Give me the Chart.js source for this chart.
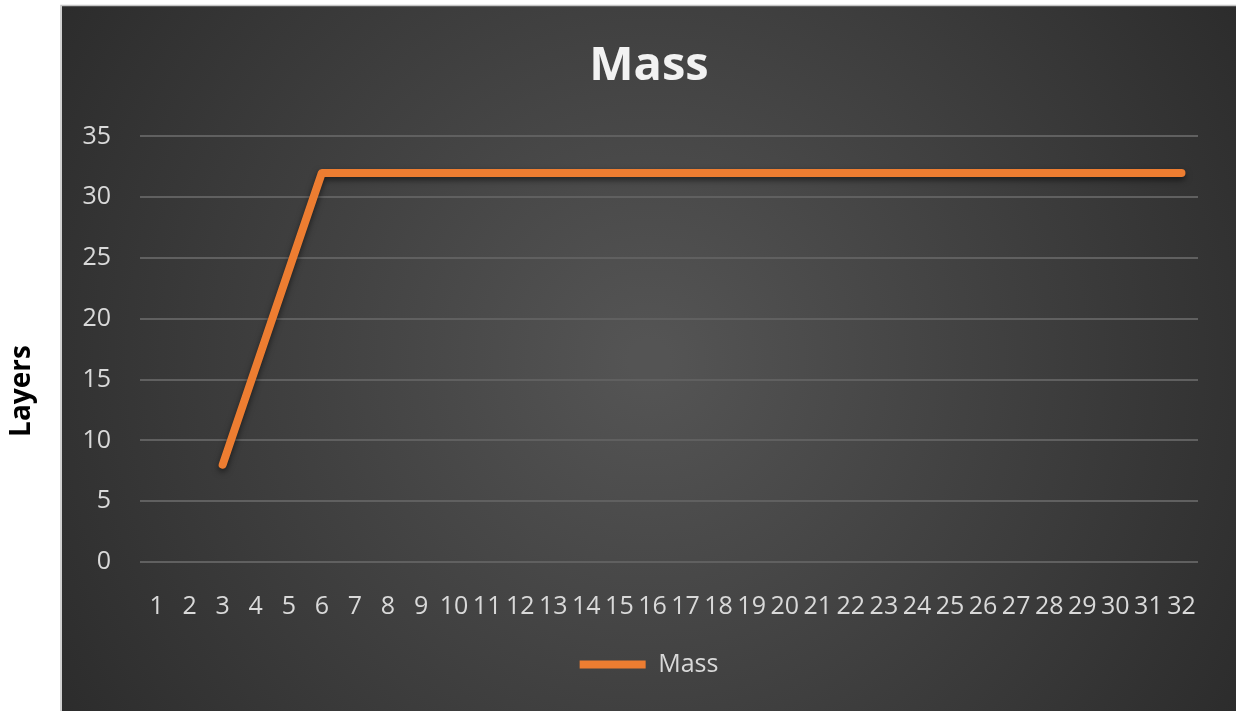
<!DOCTYPE html>
<html>
<head>
<meta charset="utf-8">
<title>Mass</title>
<script src="https://cdn.jsdelivr.net/npm/chart.js@4.4.1/dist/chart.umd.min.js"></script>
<style>
  html, body { margin: 0; padding: 0; background: #fff; }
  #wrap { width: 1236px; height: 711px; }
</style>
</head>
<body>
<div id="wrap"><canvas id="massChart"></canvas></div>
<script>
// data
const kategori = ["1", "2", "3", "4", "5", "6", "7", "8", "9", "10", "11", "12", "13", "14", "15", "16",
                  "17", "18", "19", "20", "21", "22", "23", "24", "25", "26", "27", "28", "29", "30", "31", "32"];
const nilai_mass = [null, null, 8, 16, 24, 32, 32, 32, 32, 32, 32, 32, 32, 32, 32, 32,
                    32, 32, 32, 32, 32, 32, 32, 32, 32, 32, 32, 32, 32, 32, 32, 32];
const tick_y = [0, 5, 10, 15, 20, 25, 30, 35];
const judul = "Mass";
const judul_y = "Layers";

// background gelap + label sumbu y di luar panel
const latar = {
    id: "latar",
    beforeDraw(chart) {
        const ctx = chart.ctx;
        ctx.save();
        const g = ctx.createRadialGradient(649, 360, 20, 649, 360, 720);
        g.addColorStop(0, "#545454");
        g.addColorStop(1, "#2a2a2a");
        ctx.fillStyle = g;
        ctx.fillRect(62, 6, 1174, 705);
        ctx.strokeStyle = "#c4c4c4";
        ctx.lineWidth = 1.5;
        ctx.beginPath();
        ctx.moveTo(61, 711);
        ctx.lineTo(61, 5.5);
        ctx.lineTo(1236, 5.5);
        ctx.stroke();
        ctx.restore();
    },
    afterDraw(chart) {
        const ctx = chart.ctx;
        ctx.save();
        ctx.translate(22, 391);
        ctx.rotate(-Math.PI / 2);
        ctx.font = "bold 28px 'Open Sans'";
        ctx.fillStyle = "#000";
        ctx.textAlign = "center";
        ctx.textBaseline = "middle";
        ctx.fillText(judul_y, 0, 0);
        ctx.restore();
    }
};

// bayangan garis
const bayangan = {
    id: "bayangan",
    beforeDatasetDraw(chart) {
        const ctx = chart.ctx;
        ctx.save();
        ctx.shadowColor = "rgba(0,0,0,0.55)";
        ctx.shadowBlur = 6;
        ctx.shadowOffsetY = 3;
    },
    afterDatasetDraw(chart) {
        chart.ctx.restore();
    }
};

Chart.defaults.font.family = "'Open Sans', 'Liberation Sans', sans-serif";

new Chart(document.getElementById("massChart"), {
    type: "line",
    data: {
        labels: kategori,
        datasets: [{
            label: "Mass",
            data: nilai_mass,
            borderColor: "#ED7D31",
            backgroundColor: "#ED7D31",
            borderWidth: 8,
            borderCapStyle: "round",
            borderJoinStyle: "round",
            pointRadius: 0,
            tension: 0,
            yAxisID: "y"
        }]
    },
    options: {
        responsive: true,
        maintainAspectRatio: false,
        animation: false,
        layout: { padding: { left: 62, right: 0, top: 0, bottom: 24 } },
        plugins: {
            title: {
                display: true,
                text: judul,
                color: "#f2f2f2",
                font: { size: 47, weight: "bold" },
                padding: { top: 38, bottom: 42 }
            },
            legend: {
                position: "bottom",
                labels: {
                    color: "#d9d9d9",
                    font: { size: 25 },
                    usePointStyle: true,
                    pointStyle: "line",
                    pointStyleWidth: 66
                }
            },
            tooltip: { enabled: false }
        },
        scales: {
            x: {
                offset: true,
                grid: { display: false },
                border: { display: false },
                ticks: {
                    color: "#d9d9d9",
                    font: { size: 25 },
                    padding: 22,
                    autoSkip: false,
                    maxRotation: 0
                },
                afterFit(scale) { scale.height = 80; }
            },
            y: {
                position: "left",
                min: 0,
                max: 35,
                afterBuildTicks(scale) { scale.ticks = tick_y.map(v => ({ value: v })); },
                grid: { color: "#606060", lineWidth: 2, drawTicks: false },
                border: { display: false },
                ticks: { color: "#d9d9d9", font: { size: 25 }, padding: 29 },
                afterFit(scale) { scale.width = 78; }
            },
            y2: {
                type: "linear",
                position: "right",
                grid: { display: false },
                border: { display: false },
                ticks: { display: false },
                afterFit(scale) { scale.width = 38; }
            }
        }
    },
    plugins: [latar, bayangan]
});
</script>
</body>
</html>
